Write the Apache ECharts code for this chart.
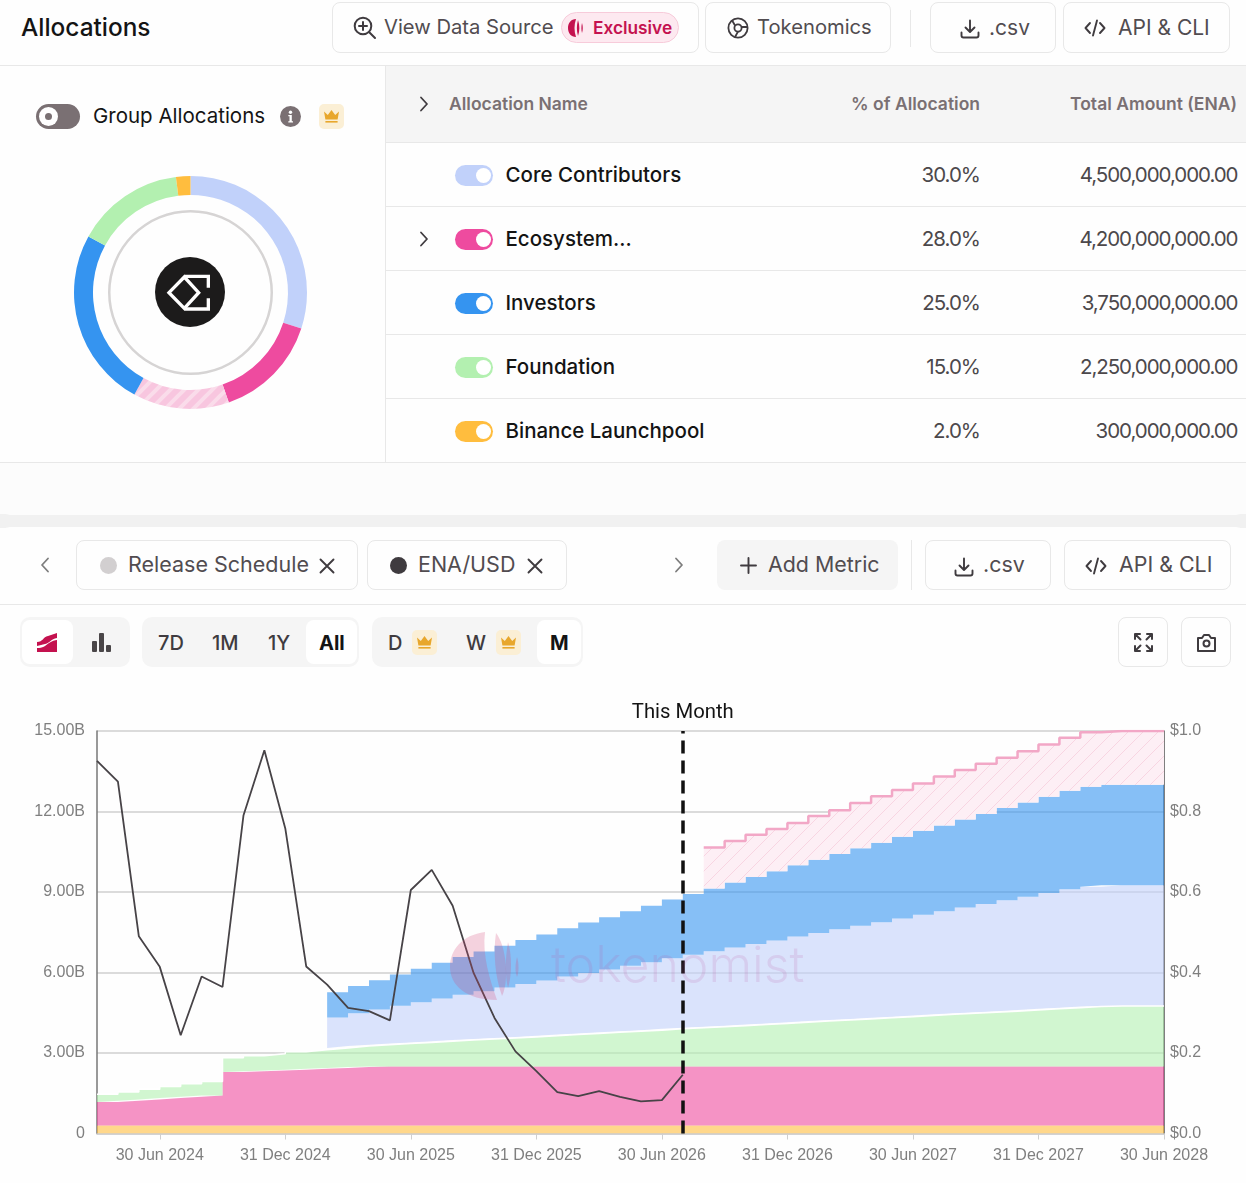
<!DOCTYPE html>
<html><head><meta charset="utf-8"><title>Allocations</title>
<script src="https://cdn.jsdelivr.net/npm/echarts@6/dist/echarts.min.js"></script>
<style>
html,body{margin:0;padding:0;background:#fefefe;width:1246px;height:1183px;overflow:hidden;font-family:Inter,"Noto Sans",sans-serif;color:#3f3b3f}
.a{position:absolute;box-sizing:border-box}
.btn{position:absolute;box-sizing:border-box;border:1px solid #e8e8e8;border-radius:8px;background:#fefefe}
.t{position:absolute;white-space:nowrap;line-height:1;transform:translateY(-50%)}
.r{position:absolute;white-space:nowrap;line-height:1;transform:translate(-100%,-50%)}
.hl{position:absolute;height:1px;background:#e8e8e8}
.vl{position:absolute;width:1px;background:#e8e8e8}
svg{position:absolute;overflow:visible}
</style></head><body>
<div id="page"></div>
<div id="donut" class="a" style="left:40px;top:142px;width:300px;height:300px"></div>
<div id="chart" class="a" style="left:0;top:690px;width:1246px;height:493px"></div>
<svg style="left:0;top:0;pointer-events:none" width="1246" height="1183" id="wm">
 <g fill="#d6467a" fill-opacity="0.24">
  <path d="M485 932 C462 935 450 950 450 967 C450 985 466 1000 497 1000 C490 980 482 955 485 932Z"/>
  <path d="M494 936 C491 955 493 980 500 999 C507 985 505 950 494 936Z" transform="translate(2,-3)"/>
  <path d="M508 942 C505 960 505 975 508 988 C512 975 512 955 508 942Z"/>
  <path d="M517 957 C515 965 515 972 517 977 C519 972 519 963 517 957Z"/>
 </g>
</svg>
<script>
// ---------- table data ----------
const allocationNames = ['Core Contributors','Ecosystem...','Investors','Foundation','Binance Launchpool'];
const allocationPct   = ['30.0%','28.0%','25.0%','15.0%','2.0%'];
const allocationTotal = ['4,500,000,000.00','4,200,000,000.00','3,750,000,000.00','2,250,000,000.00','300,000,000.00'];
const allocationColor = ['#C1D1FA','#EE4B9F','#3594F0','#B3F0B0','#FFBD3E'];
// ---------- donut data (billions of ENA) ----------
const donutNames  = ['Core Contributors','Ecosystem','Ecosystem (scheduled)','Investors','Foundation','Binance Launchpool'];
const donutValues = [4.5,2.2,2.0,3.75,2.25,0.3];
// ---------- chart data ----------
const months = ['31 Mar 2024','30 Apr 2024','31 May 2024','30 Jun 2024','31 Jul 2024','31 Aug 2024','30 Sep 2024','31 Oct 2024','30 Nov 2024','31 Dec 2024','31 Jan 2025','28 Feb 2025','31 Mar 2025','30 Apr 2025','31 May 2025','30 Jun 2025','31 Jul 2025','31 Aug 2025','30 Sep 2025','31 Oct 2025','30 Nov 2025','31 Dec 2025','31 Jan 2026','28 Feb 2026','31 Mar 2026','30 Apr 2026','31 May 2026','30 Jun 2026','31 Jul 2026','31 Aug 2026','30 Sep 2026','31 Oct 2026','30 Nov 2026','31 Dec 2026','31 Jan 2027','28 Feb 2027','31 Mar 2027','30 Apr 2027','31 May 2027','30 Jun 2027','31 Jul 2027','31 Aug 2027','30 Sep 2027','31 Oct 2027','30 Nov 2027','31 Dec 2027','31 Jan 2028','29 Feb 2028','31 Mar 2028','30 Apr 2028','31 May 2028','30 Jun 2028'];
const binance = [.3,.3,.3,.3,.3,.3,.3,.3,.3,.3,.3,.3,.3,.3,.3,.3,.3,.3,.3,.3,.3,.3,.3,.3,.3,.3,.3,.3,.3,.3,.3,.3,.3,.3,.3,.3,.3,.3,.3,.3,.3,.3,.3,.3,.3,.3,.3,.3,.3,.3,.3,.3];
const ecosystem = [.87,.92,.97,1.02,1.07,1.12,1.99,2.02,2.05,2.08,2.11,2.14,2.18,2.2,2.2,2.2,2.2,2.2,2.2,2.2,2.2,2.2,2.2,2.2,2.2,2.2,2.2,2.2,2.2,2.2,2.2,2.2,2.2,2.2,2.2,2.2,2.2,2.2,2.2,2.2,2.2,2.2,2.2,2.2,2.2,2.2,2.2,2.2,2.2,2.2,2.2,2.2];
const foundation = [.29,.33,.38,.43,.48,.52,.53,.58,.62,.67,.71,.75,.78,.81,.85,.89,.94,.98,1.02,1.06,1.10,1.14,1.19,1.23,1.27,1.31,1.35,1.40,1.44,1.48,1.52,1.56,1.60,1.65,1.69,1.73,1.77,1.81,1.85,1.90,1.94,1.98,2.02,2.06,2.10,2.15,2.19,2.23,2.25,2.25,2.25,2.25];
const core = [null,null,null,null,null,null,null,null,null,null,null,1.13,1.22,1.31,1.41,1.50,1.59,1.69,1.78,1.88,1.97,2.06,2.16,2.25,2.34,2.44,2.53,2.63,2.72,2.81,2.91,3.00,3.09,3.19,3.28,3.38,3.47,3.56,3.66,3.75,3.84,3.94,4.03,4.13,4.22,4.31,4.41,4.47,4.5,4.5,4.5,4.5];
const investors = [null,null,null,null,null,null,null,null,null,null,null,.94,1.02,1.09,1.17,1.25,1.33,1.41,1.48,1.56,1.64,1.72,1.80,1.88,1.95,2.03,2.11,2.19,2.27,2.34,2.42,2.50,2.58,2.66,2.73,2.81,2.89,2.97,3.05,3.13,3.20,3.28,3.36,3.44,3.52,3.59,3.67,3.72,3.75,3.75,3.75,3.75];
const ecosystemScheduled = [null,null,null,null,null,null,null,null,null,null,null,null,null,null,null,null,null,null,null,null,null,null,null,null,null,null,null,null,null,1.53,1.55,1.57,1.58,1.57,1.63,1.63,1.69,1.73,1.74,1.76,1.82,1.85,1.87,1.87,1.91,1.95,1.98,2.03,2.0,2.0,2.0,2.0];
const enaUsd = [.926,.874,.49,.414,.244,.39,.364,.79,.952,.758,.415,.37,.312,.304,.281,.605,.655,.566,.399,.287,.204,.155,.103,.093,.105,.091,.08,.083,.146,null,null,null,null,null,null,null,null,null,null,null,null,null,null,null,null,null,null,null,null,null,null,null];
const thisMonth = '31 Jul 2026';
const leftTicks = {min:0,max:15,interval:3};
const rightTicks = {min:0,max:1,interval:.2};

// ---------- page chrome ----------
const crown=(x,y)=>`<div class="a" style="left:${x}px;top:${y}px;width:25px;height:25px;border-radius:5px;background:#FBEFD5"></div><svg style="left:${x+4}px;top:${y+5}px" width="17" height="15" viewBox="0 0 17 15"><path d="M1 2.5 4.8 6 8.5 1l3.7 5L16 2.5 14.6 10.5H2.4Z" fill="#E8A72D"/><rect x="2.4" y="12" width="12.2" height="1.6" fill="#E8A72D"/></svg>`;
const dl=(x,y)=>`<svg style="left:${x}px;top:${y}px" width="20" height="20" viewBox="0 0 20 20" fill="none" stroke="#3f3b3f" stroke-width="1.9" stroke-linecap="round" stroke-linejoin="round"><path d="M10 1.5v11M5.5 8.5 10 13l4.5-4.5M1.5 13.5v3a2 2 0 0 0 2 2h13a2 2 0 0 0 2-2v-3"/></svg>`;
const code=(x,y)=>`<svg style="left:${x}px;top:${y}px" width="22" height="18" viewBox="0 0 22 18" fill="none" stroke="#3f3b3f" stroke-width="1.9" stroke-linecap="round" stroke-linejoin="round"><path d="M6 4 1.5 9 6 14M16 4l4.5 5L16 14M13 1.5 9 16.5"/></svg>`;
const btn=(x,y,w,h,extra='')=>`<div class="btn" style="left:${x}px;top:${y}px;width:${w}px;height:${h}px;${extra}"></div>`;
const txt=(x,y,s,size,col,w=400,extra='')=>`<div class="t" style="left:${x}px;top:${y}px;font-size:${size}px;color:${col};font-weight:${w};${extra}">${s}</div>`;
const rtxt=(x,y,s,size,col,w=400,extra='')=>`<div class="r" style="left:${x}px;top:${y}px;font-size:${size}px;color:${col};font-weight:${w};${extra}">${s}</div>`;
const chev=(x,y,dir,col='#3f3b3f')=>`<svg style="left:${x-5}px;top:${y-8}px" width="10" height="16" viewBox="0 0 10 16" fill="none" stroke="${col}" stroke-width="1.8" stroke-linecap="round" stroke-linejoin="round"><path d="${dir>0?'M2 1.5 8 8 2 14.5':'M8 1.5 2 8 8 14.5'}"/></svg>`;
let h='';
// top strip
h+=txt(21,27,'Allocations',24.4,'#141414',500);
h+=btn(332,2,367,51);
h+=`<svg style="left:353px;top:16px" width="24" height="24" viewBox="0 0 24 24" fill="none" stroke="#3f3b3f" stroke-width="2" stroke-linecap="round"><circle cx="10" cy="10" r="8.3"/><path d="M16 16l6 6M10 6v8M6 10h8"/></svg>`;
h+=txt(384,27,'View Data Source',20.2,'#514c50');
h+=`<div class="a" style="left:561px;top:12px;width:118px;height:31px;border-radius:16px;background:#FDE9F0;border:1px solid #F7CBDA"></div>`;
h+=`<svg style="left:568px;top:19px" width="19" height="18" viewBox="0 0 19 18" fill="#C4124F"><path d="M8 0C3 0 0 4 0 9s3 9 8 9C6 12 6 6 8 0Z"/><path d="M10 1c-1.5 5-1.5 11 0 16 1.8-5 1.8-11 0-16Z"/><path d="M14 4c-.8 3.500-.8 7 0 10 1-3 1-7 0-10Z"/></svg>`;
h+=txt(593,27.5,'Exclusive',17.3,'#C4124F',600);
h+=btn(705,2,186,51);
h+=`<svg style="left:727px;top:17px" width="22" height="22" viewBox="0 0 22 22" fill="none" stroke="#3f3b3f" stroke-width="1.8"><circle cx="11" cy="11" r="9.6"/><circle cx="11" cy="11" r="3.6"/><path d="M8 8.500 5 3.200M14.500 10H20M11 14.600 8 20"/></svg>`;
h+=txt(757,27,'Tokenomics',20.2,'#514c50');
h+=`<div class="vl" style="left:910px;top:10px;height:37px"></div>`;
h+=btn(930,2,126,51)+dl(960,19)+txt(989,27,'.csv',21,'#514c50');
h+=btn(1063,2,167,51)+code(1084,19)+txt(1118,27,'API &amp; CLI',21,'#514c50');
h+=`<div class="hl" style="left:0;top:65px;width:1246px"></div>`;
// left panel
h+=`<div class="vl" style="left:385px;top:66px;height:396px"></div>`;
h+=`<div class="a" style="left:36px;top:104px;width:44px;height:25px;border-radius:13px;background:#7a7073"></div><div class="a" style="left:39px;top:107px;width:19px;height:19px;border-radius:50%;background:#fff"></div><div class="a" style="left:45px;top:113px;width:7px;height:7px;border-radius:50%;background:#7a7073"></div>`;
h+=txt(93,116,'Group Allocations',20.5,'#141414',400);
h+=`<div class="a" style="left:280px;top:106px;width:21px;height:21px;border-radius:50%;background:#7a7073"></div><svg style="left:280px;top:106px" width="21" height="21" viewBox="0 0 21 21" fill="#fff"><circle cx="10.500" cy="6.200" r="1.700"/><path d="M8.300 9h3.500v6.200h1.200v1.300H8.300v-1.300h1.200v-4.900H8.300Z"/></svg>`;
h+=crown(319,104);
// table
h+=`<div class="a" style="left:386px;top:66px;width:860px;height:76px;background:#f5f5f5"></div>`;
h+=chev(424,104,1);
h+=txt(449,104,'Allocation Name',17.500,'#7a7073',600);
h+=rtxt(980,104,'% of Allocation',17.500,'#7a7073',600);
h+=rtxt(1237,104,'Total Amount (ENA)',17.500,'#7a7073',600);
h+=`<div class="hl" style="left:386px;top:142px;width:860px"></div>`;
allocationNames.forEach((n,i)=>{
 const y=175+i*64, c=allocationColor[i];
 h+=`<div class="a" style="left:455px;top:${y-10.500}px;width:38px;height:21px;border-radius:11px;background:${c}"></div><div class="a" style="left:475.500px;top:${y-7.500}px;width:15px;height:15px;border-radius:50%;background:#fff"></div>`;
 if(i===1) h+=chev(424,y-.500,1);
 h+=txt(505.500,y,n,20.500,'#141414',500);
 h+=rtxt(980,y,allocationPct[i],20.500,'#4c484b',400,'letter-spacing:-1px');
 h+=rtxt(1237.500,y,allocationTotal[i],20.500,'#4c484b',400,'letter-spacing:-1.05px');
 h+=`<div class="hl" style="left:386px;top:${y+31}px;width:860px"></div>`;
});
h+=`<div class="hl" style="left:0;top:462px;width:386px"></div>`;
// separator band
h+=`<div class="a" style="left:0;top:463px;width:1246px;height:52px;background:#fcfcfc"></div>`;
h+=`<div class="a" style="left:0;top:514px;width:1246px;height:14px;background:#f1f1f1"></div>`;
h+=`<div class="a" style="left:0;top:505px;width:1246px;height:10px;background:#fcfcfc;border-radius:0 0 10px 10px"></div>`;
h+=`<div class="a" style="left:0;top:527px;width:1246px;height:10px;background:#fefefe;border-radius:10px 10px 0 0"></div>`;
// metric row
h+=chev(45,565,-1,'#7d7d7d');
h+=btn(76,540,282,50)+`<div class="a" style="left:100px;top:556.500px;width:17px;height:17px;border-radius:50%;background:#d2cfd0"></div>`;
h+=txt(128,564.5,'Release Schedule',21.5,'#514c50');
h+=`<svg style="left:319px;top:557.500px" width="16" height="16" viewBox="0 0 16 16" stroke="#3f3b3f" stroke-width="1.900" stroke-linecap="round"><path d="M1.500 1.500l13 13M14.500 1.500l-13 13"/></svg>`;
h+=btn(367,540,200,50)+`<div class="a" style="left:390px;top:556.500px;width:17px;height:17px;border-radius:50%;background:#3f3b3f"></div>`;
h+=txt(418,564.5,'ENA/USD',21.5,'#514c50');
h+=`<svg style="left:527px;top:557.500px" width="16" height="16" viewBox="0 0 16 16" stroke="#3f3b3f" stroke-width="1.900" stroke-linecap="round"><path d="M1.500 1.500l13 13M14.500 1.500l-13 13"/></svg>`;
h+=chev(679,565,1,'#7d7d7d');
h+=`<div class="a" style="left:717px;top:540px;width:181px;height:50px;border-radius:8px;background:#f5f5f5"></div>`;
h+=`<svg style="left:740px;top:557px" width="17" height="17" viewBox="0 0 17 17" stroke="#3f3b3f" stroke-width="1.900" stroke-linecap="round"><path d="M8.500 1v15M1 8.500h15"/></svg>`;
h+=txt(768,564.5,'Add Metric',21.4,'#514c50');
h+=`<div class="vl" style="left:911px;top:540px;height:50px"></div>`;
h+=btn(925,540,126,50)+dl(954,557)+txt(983,564.5,'.csv',21.4,'#514c50');
h+=btn(1064,540,167,50)+code(1085,557)+txt(1119,564.5,'API &amp; CLI',21.4,'#514c50');
h+=`<div class="hl" style="left:0;top:604px;width:1246px"></div>`;
// controls row
const grp=(x,w)=>`<div class="a" style="left:${x}px;top:617px;width:${w}px;height:50px;border-radius:10px;background:#f5f5f5"></div>`;
const tile=(x,w)=>`<div class="a" style="left:${x}px;top:620px;width:${w}px;height:44px;border-radius:8px;background:#fff"></div>`;
h+=grp(20,110)+tile(22,51);
h+=`<svg style="left:37px;top:633px" width="21" height="19" viewBox="0 0 21 19" fill="#C4124F"><path d="M0 9C6 9 6 4 11 3L20 0V5C14 6 12 11 6 11.500L0 13Z"/><path d="M0 15C6 15 8 13 12 10 15 8 18 7 20 7V19H0Z"/></svg>`;
h+=`<svg style="left:92px;top:633px" width="19" height="19" viewBox="0 0 19 19" fill="#4a4648"><rect x="0" y="8" width="5" height="11" rx="1"/><rect x="7" y="0" width="5" height="19" rx="1"/><rect x="14" y="12" width="5" height="7" rx="1"/></svg>`;
h+=grp(142,217)+tile(306,51);
h+=txt(158,642.500,'7D',20,'#3f3b3f',500)+txt(212,642.500,'1M',20,'#3f3b3f',500)+txt(268,642.500,'1Y',20,'#3f3b3f',500)+txt(319,642.500,'All',20,'#141414',700);
h+=grp(372,211)+tile(537,44);
h+=txt(388,642.500,'D',20,'#3f3b3f',500)+crown(412,630)+txt(466,642.500,'W',20,'#3f3b3f',500)+crown(496,630)+txt(550,642.500,'M',20,'#141414',700);
h+=btn(1118,617,50,50)+`<svg style="left:1134px;top:633px" width="19" height="19" viewBox="0 0 19 19" fill="none" stroke="#3f3b3f" stroke-width="2" stroke-linecap="round" stroke-linejoin="round"><path d="M1 6V1h5M1 1l5.500 5.500M18 6V1h-5M18 1l-5.500 5.500M1 13v5h5M1 18l5.500-5.500M18 13v5h-5M18 18l-5.500-5.500"/></svg>`;
h+=btn(1181,617,50,50)+`<svg style="left:1196px;top:632px" width="21" height="21" viewBox="0 0 21 21" fill="none" stroke="#3f3b3f" stroke-width="2" stroke-linejoin="round"><path d="M2 6h4l2-3h5l2 3h4v13H2Z"/><circle cx="10.500" cy="11.500" r="3"/></svg>`;
// donut centre
h+=`<div class="a" style="left:155px;top:257px;width:70px;height:70px;border-radius:50%;background:#1c1b1b;z-index:5"></div>`;
h+=`<svg style="left:155px;top:257px;z-index:6" width="70" height="70" viewBox="465 560 210 210" fill="none" stroke="#fff" stroke-width="10"><path d="M507 667 553 620 596 667 553 714Z"/><path d="M553 618H625V652M625 684V716H553"/></svg>`;
document.getElementById('page').innerHTML=h;

// ---------- patterns ----------
function hatch(){const c=document.createElement('canvas');c.width=c.height=15;const g=c.getContext('2d');
 g.fillStyle='#fdeff5';g.fillRect(0,0,15,15);g.strokeStyle='#f8d5e2';g.lineWidth=1;
 g.beginPath();g.moveTo(-2,17);g.lineTo(17,-2);g.stroke();return c;}
function pieStripe(){const c=document.createElement('canvas');c.width=c.height=14;const g=c.getContext('2d');
 g.fillStyle='#f8c6df';g.fillRect(0,0,14,14);g.strokeStyle='#fadcea';g.lineWidth=4;
 g.beginPath();g.moveTo(-3,17);g.lineTo(17,-3);g.moveTo(-3,3);g.lineTo(3,-3);g.moveTo(11,17);g.lineTo(17,11);g.stroke();return c;}

// ---------- donut ----------
const donutFill=['#C1D1FA','#EE4B9F',{image:pieStripe(),repeat:'repeat'},'#3594F0','#B3F0B0','#FFBD3E'];
echarts.init(document.getElementById('donut')).setOption({animation:false,series:[
 {type:'pie',silent:true,center:[150.5,150.5],radius:[97.5,116.5],startAngle:90,clockwise:true,label:{show:false},labelLine:{show:false},
  data:donutNames.map((n,i)=>({name:n,value:donutValues[i],itemStyle:{color:donutFill[i],borderWidth:0}}))},
 {type:'pie',silent:true,center:[150.5,150.5],radius:[80,82.5],label:{show:false},labelLine:{show:false},
  data:[{value:1,itemStyle:{color:'#d6d4d4'}}]}
]});

// ---------- main chart ----------
const isTick=i=>(i-3)%6===0;
const area=(name,data,color,extra={})=>Object.assign({name,type:'line',stack:'supply',step:'end',data,
  symbol:'none',showSymbol:false,silent:true,connectNulls:false,
  lineStyle:{width:0},areaStyle:{color,opacity:.6},z:2},extra);
echarts.init(document.getElementById('chart')).setOption({
 animation:false,
 grid:{left:97,right:82,top:41,bottom:49.5,containLabel:false},
 graphic:[{type:'text',z:50,silent:true,left:551,top:252,style:{text:'tokenomist',font:'300 50px Inter',fill:'rgba(190,80,160,0.15)'}}],
 xAxis:{type:'category',boundaryGap:false,data:months,
  axisLine:{lineStyle:{color:'#cfcfcf',width:1.5}},
  axisTick:{interval:isTick,length:6,lineStyle:{color:'#cfcfcf',width:1}},
  axisLabel:{interval:isTick,showMaxLabel:true,hideOverlap:false,margin:14.5,color:'#7f7f7f',fontFamily:'Liberation Sans',fontSize:16},
  splitLine:{show:false}},
 yAxis:[
  {type:'value',...leftTicks,
   axisLine:{show:true,lineStyle:{color:'#777',width:1.5}},axisTick:{show:false},
   splitLine:{show:true,lineStyle:{color:'#cfcfcf',width:1.5}},
   axisLabel:{margin:12,color:'#7f7f7f',fontFamily:'Liberation Sans',fontSize:16,formatter:v=>v===0?'0':v.toFixed(2)+'B'}},
  {type:'value',position:'right',...rightTicks,
   axisLine:{show:true,lineStyle:{color:'#555',width:1.5}},axisTick:{show:false},splitLine:{show:false},
   axisLabel:{margin:6,color:'#7f7f7f',fontFamily:'Liberation Sans',fontSize:16,formatter:v=>'$'+v.toFixed(1)}}
 ],
 series:[
  area('Binance Launchpool',binance,'#FFBD3E'),
  area('Ecosystem',ecosystem,'#EE4B9F'),
  area('Foundation',foundation,'#B3F0B0',{lineStyle:{width:1.5,color:'#fff'}}),
  area('Core Contributors',core,'#C1D1FA'),
  area('Investors',investors,'#3594F0'),
  area('Ecosystem (scheduled)',ecosystemScheduled,'#fdeff5',{areaStyle:{color:{image:hatch(),repeat:'repeat'},opacity:1},lineStyle:{width:2.5,color:'#f2a7c6'}}),
  {name:'ENA/USD',type:'line',yAxisIndex:1,data:enaUsd,symbol:'none',showSymbol:false,silent:true,z:5,
   lineStyle:{color:'#474347',width:1.8},
   markLine:{silent:true,symbol:'none',animation:false,z:10,
    lineStyle:{type:[13,7],color:'#111',width:3.5},
    label:{show:true,position:'end',distance:8,formatter:'This Month',color:'#141414',fontFamily:'Roboto',fontSize:20.3},
    data:[{xAxis:thisMonth}]}}
 ]
});
</script>
</body></html>
